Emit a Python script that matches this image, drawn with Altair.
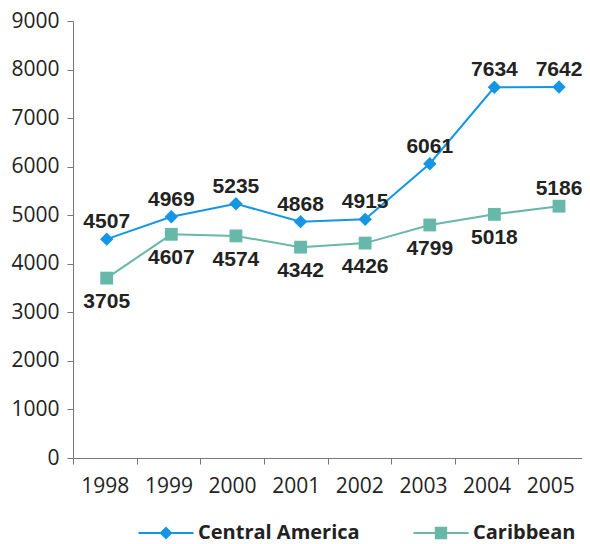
import altair as alt
import pandas as pd

years = ["1998", "1999", "2000", "2001", "2002", "2003", "2004", "2005"]
central_america = [4507, 4969, 5235, 4868, 4915, 6061, 7634, 7642]
caribbean = [3705, 4607, 4574, 4342, 4426, 4799, 5018, 5186]
series_names = ["Central America", "Caribbean"]
series_colors = ["#1496E4", "#67B8A8"]
y_ticks = [0, 1000, 2000, 3000, 4000, 5000, 6000, 7000, 8000, 9000]

rows = []
for name, vals in zip(series_names, [central_america, caribbean]):
    for i, (yr, v) in enumerate(zip(years, vals)):
        # Caribbean labels sit below their points, except the last one
        side = "above" if (name == "Central America" or i == len(years) - 1) else "below"
        rows.append({"year": yr, "value": v, "series": name, "side": side})
df = pd.DataFrame(rows)

LINE_FONT = "Open Sans"
LABEL_FONT = "Liberation Sans"

# category axis (ticks between categories)
x_axis_enc = alt.X("year:N", sort=years,
                   scale=alt.Scale(type="band", paddingInner=0, paddingOuter=0),
                   axis=alt.Axis(title=None, labelAngle=0, tickBand="extent",
                                 labelFont=LINE_FONT, labelFontSize=21, labelColor="#222",
                                 labelPadding=11, tickSize=6, domainColor="#777",
                                 tickColor="#777", grid=False))
# the plotted points are spread slightly wider than the category bands
x_enc = alt.X("year:N", sort=years,
              scale=alt.Scale(type="band", paddingInner=0, paddingOuter=0, range=[1.4, 518.3]),
              axis=None)
y_enc = alt.Y("value:Q",
              scale=alt.Scale(domain=[0, 9000], nice=False),
              axis=alt.Axis(title=None, values=y_ticks, format="d", labelFont=LINE_FONT,
                            labelFontSize=21, labelColor="#222", labelPadding=8,
                            tickSize=6, domainColor="#777", tickColor="#777",
                            grid=False))

color_scale = alt.Scale(domain=series_names, range=series_colors)

# legend symbol: line with marker (unit square scaled by sqrt(size)/2)
path_ca = ("M-4.23,-0.15L-0.85,-0.15L0,-1L0.85,-0.15L4.23,-0.15L4.23,0.15"
           "L0.85,0.15L0,1L-0.85,0.15L-4.23,0.15Z")
path_car = ("M-4.23,-0.15L-0.95,-0.15L-0.95,-0.95L0.95,-0.95L0.95,-0.15L4.23,-0.15"
            "L4.23,0.15L0.95,0.15L0.95,0.95L-0.95,0.95L-0.95,0.15L-4.23,0.15Z")

base = alt.Chart(df)

axis_layer = base.mark_point(opacity=0).encode(x=x_axis_enc, y=y_enc)

legend_layer = base.transform_filter("false").mark_point(filled=True, size=169, opacity=1).encode(
    x=x_enc, y=y_enc,
    color=alt.Color("series:N", scale=color_scale,
                    legend=alt.Legend(title=None, orient="none", direction="horizontal",
                                      legendX=83, legendY=502, symbolSize=169,
                                      labelFont=LINE_FONT, labelFontSize=20,
                                      labelFontWeight="bold", labelColor="#222",
                                      labelLimit=400, labelOffset=22, columnPadding=53,
                                      symbolStrokeWidth=0, padding=0)),
    shape=alt.Shape("series:N", scale=alt.Scale(domain=series_names, range=[path_ca, path_car]))
)

lines = base.mark_line(strokeWidth=2).encode(
    x=x_enc, y=y_enc,
    color=alt.Color("series:N", scale=color_scale, legend=None),
    detail="series:N",
)

pts_ca = base.transform_filter(alt.datum.series == "Central America").mark_point(
    shape="diamond", filled=True, size=180, opacity=1).encode(
    x=x_enc, y=y_enc, color=alt.Color("series:N", scale=color_scale, legend=None))

pts_car = base.transform_filter(alt.datum.series == "Caribbean").mark_point(
    shape="square", filled=True, size=165, opacity=1).encode(
    x=x_enc, y=y_enc, color=alt.Color("series:N", scale=color_scale, legend=None))

text_above = base.transform_filter(alt.datum.side == "above").mark_text(
    dy=-17, font=LABEL_FONT, fontSize=21, fontWeight="bold", color="#222").encode(
    x=x_enc, y=y_enc, text="value:Q")

text_below = base.transform_filter(alt.datum.side == "below").mark_text(
    dy=24, font=LABEL_FONT, fontSize=21, fontWeight="bold", color="#222").encode(
    x=x_enc, y=y_enc, text="value:Q")

marks = alt.layer(legend_layer, lines, pts_ca, pts_car, text_above, text_below)

chart = alt.layer(axis_layer, marks).resolve_scale(x="independent").properties(
    width=509, height=437,
    autosize=alt.AutoSizeParams(type="none"),
    padding={"left": 65, "top": 13, "right": 0, "bottom": 86},
).configure_view(stroke=None)

chart.save("out.html", embed_options={"renderer": "svg", "actions": False})
